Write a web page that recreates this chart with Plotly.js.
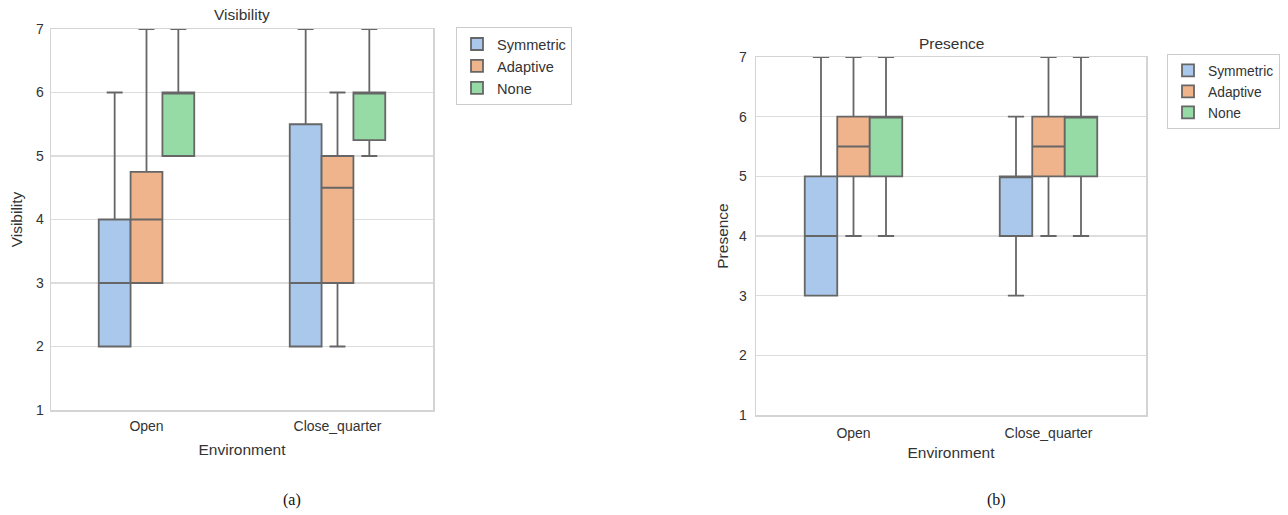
<!DOCTYPE html>
<html>
<head>
<meta charset="utf-8">
<script src="https://cdn.plot.ly/plotly-3.0.1.min.js"></script>
<style>html,body{margin:0;padding:0;background:#fff;}#chart{width:1288px;height:515px;}</style>
</head>
<body>
<div id="chart"></div>
<script>
const environments = ["Open", "Close_quarter"];
const conditions = ["Symmetric", "Adaptive", "None"];
const colors = ["#aac8ec", "#f0b48c", "#96dba6"];

// Visibility box statistics per condition: [Open, Close_quarter]
const visQ1 = { Symmetric: [2, 2], Adaptive: [3, 3], None: [5, 5.25] };
const visMedian = { Symmetric: [3, 3], Adaptive: [4, 4.5], None: [6, 6] };
const visQ3 = { Symmetric: [4, 5.5], Adaptive: [4.75, 5], None: [6, 6] };
const visLow = { Symmetric: [2, 2], Adaptive: [3, 2], None: [5, 5] };
const visHigh = { Symmetric: [6, 7], Adaptive: [7, 6], None: [7, 7] };

// Presence box statistics per condition: [Open, Close_quarter]
const preQ1 = { Symmetric: [3, 4], Adaptive: [5, 5], None: [5, 5] };
const preMedian = { Symmetric: [4, 5], Adaptive: [5.5, 5.5], None: [6, 6] };
const preQ3 = { Symmetric: [5, 5], Adaptive: [6, 6], None: [6, 6] };
const preLow = { Symmetric: [3, 3], Adaptive: [4, 4], None: [4, 4] };
const preHigh = { Symmetric: [7, 6], Adaptive: [7, 7], None: [7, 7] };

const yTicks = [1, 2, 3, 4, 5, 6, 7];

const lineCol = "rgb(102,102,102)";
const traces = [];
conditions.forEach((c, i) => {
  traces.push({
    type: "box", name: c, x: environments,
    q1: visQ1[c], median: visMedian[c], q3: visQ3[c],
    lowerfence: visLow[c], upperfence: visHigh[c],
    fillcolor: colors[i], line: { color: lineCol, width: 1.8 },
    whiskerwidth: 0.5, xaxis: "x", yaxis: "y", legend: "legend",
    offsetgroup: c, alignmentgroup: "vis",
    hoverinfo: "skip", boxpoints: false
  });
});
conditions.forEach((c, i) => {
  traces.push({
    type: "box", name: c, x: environments,
    q1: preQ1[c], median: preMedian[c], q3: preQ3[c],
    lowerfence: preLow[c], upperfence: preHigh[c],
    fillcolor: colors[i], line: { color: lineCol, width: 1.8 },
    whiskerwidth: 0.5, xaxis: "x2", yaxis: "y2", legend: "legend2",
    offsetgroup: c, alignmentgroup: "pre",
    hoverinfo: "skip", boxpoints: false
  });
});

const W = 1288, H = 515;
const fontFam = "Liberation Sans, Arial, sans-serif";
const axCommon = {
  showline: true, mirror: true, linecolor: "#d4d4d4", linewidth: 1.5,
  zeroline: false, ticks: "", fixedrange: true
};
function xAx(d, tso, standoff) {
  return Object.assign({}, axCommon, {
    domain: d, type: "category", categoryarray: environments, categoryorder: "array",
    showgrid: false, tickfont: { family: fontFam, size: 14, color: "#333" }, ticklabelstandoff: tso,
    title: { text: "Environment", font: { family: fontFam, size: 15.5, color: "#333" }, standoff: standoff }
  });
}
function yAx(d, title, anchor, tso, standoff) {
  return Object.assign({}, axCommon, {
    domain: d, range: [1, 7], tickvals: yTicks, showgrid: true, gridcolor: "#dddddd", gridwidth: 1.3,
    tickfont: { family: fontFam, size: 14, color: "#333" }, anchor: anchor, ticklabelstandoff: tso,
    title: { text: title, font: { family: fontFam, size: 15.5, color: "#333" }, standoff: standoff }
  });
}

const layout = {
  width: W, height: H, margin: { l: 0, r: 0, t: 0, b: 0 },
  paper_bgcolor: "#fff", plot_bgcolor: "#fff",
  boxmode: "group", boxgap: 0.5, boxgroupgap: 0,
  xaxis: Object.assign(xAx([51 / W, 433 / W], 3, 11), { anchor: "y" }),
  yaxis: yAx([1 - 410 / H, 1 - 29 / H], "Visibility", "x", 3, 9),
  xaxis2: Object.assign(xAx([756 / W, 1146 / W], 5, 7), { anchor: "y2" }),
  yaxis2: yAx([1 - 415 / H, 1 - 57 / H], "Presence", "x2", 5, 6),
  legend: {
    x: 456 / W, y: 1 - 27 / H, xanchor: "left", yanchor: "top",
    bordercolor: "#cccccc", borderwidth: 1, bgcolor: "#fff",
    font: { family: fontFam, size: 14.6, color: "#333" }, tracegroupgap: 0, itemwidth: 30
  },
  legend2: {
    x: 1167 / W, y: 1 - 54 / H, xanchor: "left", yanchor: "top",
    bordercolor: "#cccccc", borderwidth: 1, bgcolor: "#fff",
    font: { family: fontFam, size: 13.8, color: "#333" }, tracegroupgap: 0, itemwidth: 30
  },
  showlegend: true,
  annotations: [
    { text: "Visibility", x: 242 / W, y: 1 - 14 / H, xref: "paper", yref: "paper", showarrow: false,
      xanchor: "center", yanchor: "middle", font: { family: fontFam, size: 15.5, color: "#333" } },
    { text: "Presence", x: 952 / W, y: 1 - 43 / H, xref: "paper", yref: "paper", showarrow: false,
      xanchor: "center", yanchor: "middle", font: { family: fontFam, size: 15.5, color: "#333" } },
    { text: "(a)", x: 292 / W, y: 1 - 500 / H, xref: "paper", yref: "paper", showarrow: false,
      xanchor: "center", yanchor: "middle", font: { family: "Liberation Serif, Times New Roman, serif", size: 16, color: "#111" } },
    { text: "(b)", x: 997 / W, y: 1 - 500 / H, xref: "paper", yref: "paper", showarrow: false,
      xanchor: "center", yanchor: "middle", font: { family: "Liberation Serif, Times New Roman, serif", size: 16, color: "#111" } }
  ]
};

Plotly.newPlot("chart", traces, layout, { displayModeBar: false, staticPlot: true });
</script>
</body>
</html>
